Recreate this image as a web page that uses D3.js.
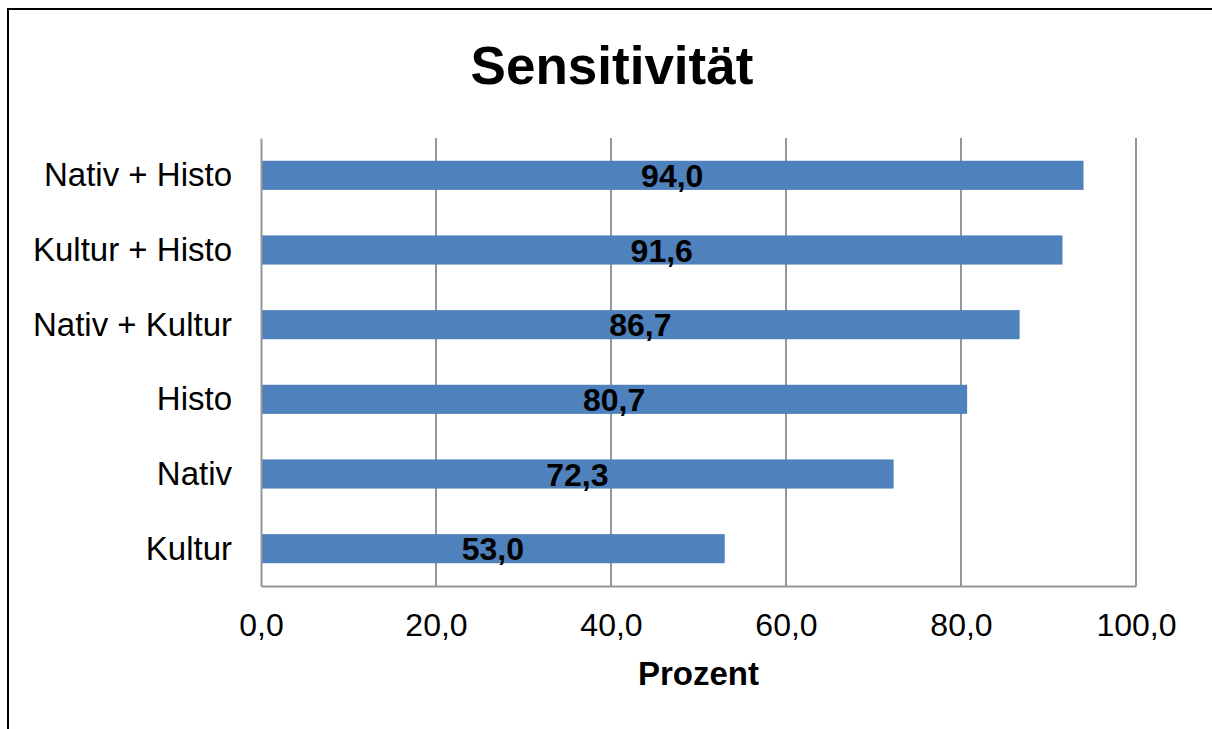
<!DOCTYPE html>
<html>
<head>
<meta charset="utf-8">
<script src="https://cdn.jsdelivr.net/npm/d3@7"></script>
<style>
  body { margin: 0; background: #fff; }
  svg { display: block; font-family: "Liberation Sans", Arial, sans-serif; }
</style>
</head>
<body>
<div id="chart"></div>
<script>
let categories = ["Nativ + Histo", "Kultur + Histo", "Nativ + Kultur", "Histo", "Nativ", "Kultur"];
let values = [94.0, 91.6, 86.7, 80.7, 72.3, 53.0];
let xTicks = [0, 20, 40, 60, 80, 100];

let data = categories.map((c, i) => ({ name: c, value: values[i] }));

let W = 1212, H = 729;
let margin = { top: 138, right: 76, bottom: 143, left: 261 },
    width = W - margin.left - margin.right,
    height = H - margin.top - margin.bottom;

let svg = d3.select("#chart")
    .append("svg")
    .attr("width", W)
    .attr("height", H);

// outer frame (runs off the right and bottom edges)
svg.append("rect")
    .attr("x", 8)
    .attr("y", 9)
    .attr("width", 1230)
    .attr("height", 760)
    .attr("fill", "none")
    .attr("stroke", "#000")
    .attr("stroke-width", 2);

let g = svg.append("g")
    .attr("transform", `translate(${margin.left},${margin.top})`);

let x = d3.scaleLinear()
    .domain([0, 100])
    .range([0, width]);

let y = d3.scaleBand()
    .domain(categories)
    .range([0, height])
    .paddingInner(0.61)
    .paddingOuter(0.305);

let fmt = v => d3.format(".1f")(v).replace(".", ",");

// vertical gridlines
g.append("g")
    .selectAll("line")
    .data(xTicks.slice(1))
    .enter()
    .append("line")
    .attr("x1", d => x(d))
    .attr("x2", d => x(d))
    .attr("y1", 0)
    .attr("y2", height)
    .attr("stroke", "#969696")
    .attr("stroke-width", 2);

// bars
g.selectAll(".bar")
    .data(data)
    .enter()
    .append("rect")
    .attr("class", "bar")
    .attr("x", x(0))
    .attr("y", d => y(d.name))
    .attr("width", d => x(d.value) - x(0))
    .attr("height", y.bandwidth())
    .attr("fill", "#4F81BD");

// axes
let xAxis = g.append("g")
    .attr("transform", `translate(0,${height})`)
    .call(d3.axisBottom(x).tickValues(xTicks).tickSize(0).tickPadding(27).tickFormat(fmt));
xAxis.select(".domain").attr("stroke", "#969696").attr("stroke-width", 2);
xAxis.selectAll("text")
    .attr("fill", "#000")
    .style("font-size", "32px");

let yAxis = g.append("g")
    .call(d3.axisLeft(y).tickSize(0).tickPadding(29));
yAxis.select(".domain").attr("stroke", "#969696").attr("stroke-width", 2);
yAxis.selectAll("text")
    .attr("fill", "#000")
    .attr("dy", "0.33em")
    .style("font-size", "33px");

// value labels in the middle of each bar
g.selectAll(".lbl")
    .data(data)
    .enter()
    .append("text")
    .attr("class", "lbl")
    .attr("x", d => x(d.value / 2))
    .attr("y", d => y(d.name) + y.bandwidth() / 2)
    .attr("dy", "0.36em")
    .attr("text-anchor", "middle")
    .style("font-size", "32px")
    .style("font-weight", "bold")
    .text(d => fmt(d.value));

// title
svg.append("text")
    .attr("x", 612)
    .attr("y", 84)
    .attr("text-anchor", "middle")
    .style("font-size", "53px")
    .style("font-weight", "bold")
    .text("Sensitivität");

// axis title
svg.append("text")
    .attr("x", margin.left + width / 2)
    .attr("y", 685)
    .attr("text-anchor", "middle")
    .style("font-size", "33px")
    .style("font-weight", "bold")
    .text("Prozent");
</script>
</body>
</html>
